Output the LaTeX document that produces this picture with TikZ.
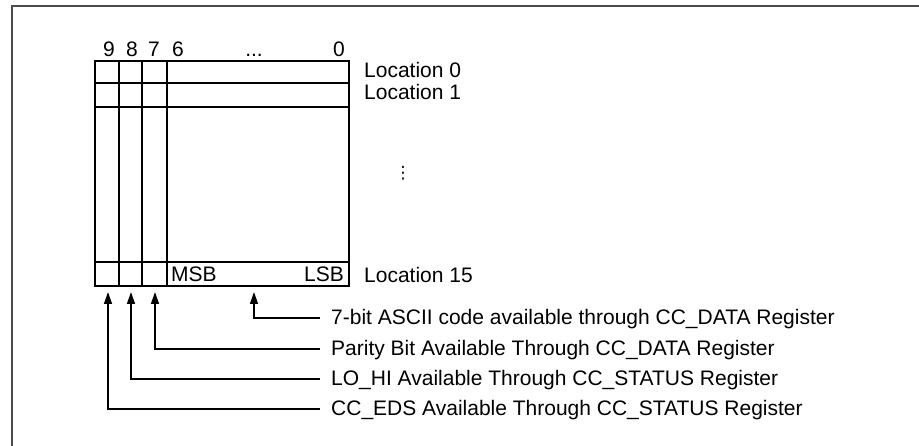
\documentclass[tikz,border=0pt]{standalone}
\usepackage{fontspec}
\setmainfont{Liberation Sans}
\newfontfamily\symfont{DejaVu Sans}
\usetikzlibrary{arrows.meta}
\begin{document}
\begin{tikzpicture}[x=1pt,y=-1pt,
  lbl/.style={inner sep=0pt, font=\fontsize{21}{25}\selectfont},
  gridline/.style={line width=2.5pt},
  frameline/.style={line width=2.2pt, draw=black!70},
  conn/.style={line width=1.5pt, -{Triangle[length=12pt,width=8pt]}}]
\useasboundingbox (0,0) rectangle (919,446);
\draw[frameline] (12,446) -- (12,6) -- (919,6);
% memory grid
\draw[gridline] (95,61) rectangle (349,286);
\foreach \x in {119,142,167} \draw[gridline] (\x,61) -- (\x,286);
\foreach \y in {83,107,262} \draw[gridline] (95,\y) -- (349,\y);
% bit numbers
\node[lbl, anchor=base] (b9) at (109,57) {9};
\node[lbl, anchor=base] (b8) at (132,57) {8};
\node[lbl, anchor=base] (b7) at (154,57) {7};
\node[lbl, anchor=base] (b6) at (178,57) {6};
\node[lbl, anchor=base] (bd) at (254,57) {...};
\node[lbl, anchor=base] (b0) at (339,57) {0};
% locations
\node[lbl, anchor=base west] (l0) at (364,78) {Location 0};
\node[lbl, anchor=base west] (l1) at (364,100) {Location 1};
\node[lbl, anchor=base west] (l15) at (364,283) {Location 15};
\node[inner sep=0pt, font=\symfont\fontsize{17}{20}\selectfont] (vd) at (403,173) {⋮};
\node[lbl, anchor=base west] (msb) at (171,282) {MSB};
\node[lbl, anchor=base east] (lsb) at (344,282) {LSB};
% arrow tips
\coordinate (a1) at (254,292);
\coordinate (a2) at (155,292);
\coordinate (a3) at (131,292);
\coordinate (a4) at (108,292);
% line ends
\coordinate (k1) at (320,318);
\coordinate (k2) at (320,349);
\coordinate (k3) at (320,379);
\coordinate (k4) at (320,409);
\node[lbl, anchor=base west] (t1) at ([xshift=11pt,yshift=-7pt]k1) {7-bit ASCII code available through CC\_DATA Register};
\node[lbl, anchor=base west] (t2) at ([xshift=11pt,yshift=-7pt]k2) {Parity Bit Available Through CC\_DATA Register};
\node[lbl, anchor=base west] (t3) at ([xshift=11pt,yshift=-7pt]k3) {LO\_HI Available Through CC\_STATUS Register};
\node[lbl, anchor=base west] (t4) at ([xshift=11pt,yshift=-7pt]k4) {CC\_EDS Available Through CC\_STATUS Register};
\draw[conn] (k1) -| (a1);
\draw[conn] (k2) -| (a2);
\draw[conn] (k3) -| (a3);
\draw[conn] (k4) -| (a4);
\end{tikzpicture}
\end{document}
